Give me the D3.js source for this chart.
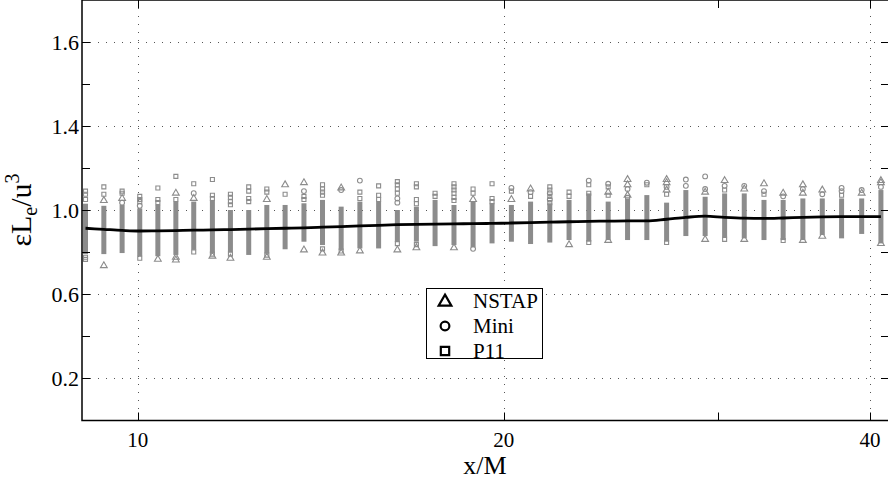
<!DOCTYPE html>
<html><head><meta charset="utf-8">
<script src="https://cdn.jsdelivr.net/npm/d3@7"></script>
<style>body{margin:0;background:#fff}svg{display:block}
text{font-family:"Liberation Serif","Times New Roman","DejaVu Serif",serif;}</style>
</head><body><svg id="c" width="888" height="479"></svg>
<script>
// ---- data ----
const xStations = [9.06,9.38,9.71,10.04,10.39,10.75,11.12,11.52,11.92,12.34,12.77,13.22,13.70,14.19,14.70,15.23,15.78,16.35,16.95,17.56,18.20,18.87,19.56,20.29,21.04,21.82,22.63,23.49,24.37,25.28,26.22,27.22,28.23,29.28,30.38,31.53,32.73,33.94,35.23,36.55,37.91,39.38,40.84];
const bandLow  = [0.79,0.79,0.795,0.78,0.78,0.786,0.81,0.794,0.80,0.786,0.794,0.813,0.849,0.833,0.81,0.817,0.817,0.849,0.849,0.828,0.833,0.822,0.841,0.849,0.838,0.845,0.857,0.849,0.857,0.857,0.857,0.849,0.876,0.876,0.87,0.865,0.857,0.857,0.857,0.881,0.865,0.886,0.841];
const bandHigh = [1.03,1.02,1.024,1.008,1.024,1.04,1.04,1.048,1.0,1.0,1.024,1.024,1.032,1.048,1.016,1.04,1.04,1.0,1.016,1.048,1.024,1.04,1.032,1.024,1.04,1.032,1.048,1.079,1.04,1.055,1.071,1.035,1.095,1.063,1.079,1.079,1.048,1.048,1.055,1.055,1.055,1.055,1.095];
const meanValues = [0.913,0.908,0.903,0.900,0.901,0.902,0.904,0.905,0.907,0.909,0.911,0.913,0.915,0.918,0.921,0.924,0.927,0.930,0.932,0.933,0.934,0.935,0.936,0.938,0.940,0.942,0.944,0.946,0.947,0.948,0.948,0.956,0.965,0.971,0.965,0.961,0.960,0.962,0.965,0.967,0.968,0.968,0.968];
// outliers: [column index, value]
const nstapOutliers = [[1,1.045],[1,0.735],[2,1.055],[4,0.765],[5,1.08],[5,0.775],[5,0.762],[6,1.055],[7,0.78],[8,0.77],[10,1.05],[10,0.775],[11,1.12],[12,1.13],[12,0.81],[13,0.795],[14,1.105],[14,0.795],[15,0.805],[17,0.81],[18,0.82],[20,0.82],[21,1.05],[23,1.05],[24,1.1],[26,0.835],[28,1.085],[28,0.855],[29,1.145],[29,1.12],[29,1.07],[31,1.145],[31,1.13],[31,1.095],[33,1.085],[33,0.86],[34,1.14],[35,1.1],[35,0.86],[36,1.125],[37,1.08],[38,1.12],[38,1.08],[38,0.855],[39,1.095],[39,0.875],[41,1.08],[42,1.14],[42,1.13],[42,0.84]];
const miniOutliers = [[2,1.035],[3,1.02],[6,1.08],[12,1.09],[14,1.095],[15,1.14],[17,1.055],[17,1.035],[21,0.815],[23,1.105],[24,1.085],[25,1.08],[25,1.05],[27,1.14],[28,1.125],[29,1.1],[30,1.13],[31,1.11],[32,1.145],[32,1.115],[33,1.16],[33,1.1],[34,1.115],[35,1.115],[36,1.09],[37,1.065],[38,1.1],[39,1.075],[40,1.105],[40,1.09],[41,1.095],[42,1.11]];
const p11Outliers = [[0,1.09],[0,1.075],[0,1.05],[0,0.775],[0,0.765],[1,1.11],[1,1.075],[2,1.09],[2,1.08],[3,1.065],[3,1.05],[3,1.04],[3,0.77],[4,1.105],[4,1.05],[4,1.035],[5,1.16],[5,1.05],[6,1.125],[6,0.80],[7,1.145],[7,1.07],[7,1.055],[7,0.79],[8,1.075],[8,1.06],[8,1.04],[8,1.025],[8,0.79],[9,1.11],[9,1.09],[9,1.055],[9,1.04],[10,1.1],[10,1.085],[10,0.785],[11,1.075],[12,1.065],[12,1.05],[13,1.12],[13,1.1],[13,1.085],[13,1.07],[13,0.815],[14,0.805],[15,1.085],[15,1.055],[16,1.115],[16,1.07],[16,1.05],[17,1.135],[17,1.12],[17,1.10],[17,1.08],[17,0.84],[18,1.125],[18,1.11],[18,1.05],[18,1.03],[18,0.835],[19,1.08],[19,1.065],[20,1.125],[20,1.11],[20,1.095],[20,1.08],[20,1.06],[20,1.045],[21,1.1],[21,1.08],[22,1.125],[22,1.055],[22,1.04],[23,1.09],[24,1.065],[25,1.11],[25,1.095],[25,1.065],[25,1.035],[26,1.085],[26,1.065],[27,1.12],[27,1.08],[27,0.845],[28,1.11],[28,1.07],[29,1.06],[30,1.12],[31,1.075],[31,0.845],[34,1.095],[34,0.86],[36,1.075],[37,0.855],[40,1.07]];
const xTicks = [10,20,30,40];
const xTickLabels = ["10","20","","40"];
const xGridTicks = [10,20,40];
const yTicks = [0.2,0.4,0.6,0.8,1.0,1.2,1.4,1.6,1.8];
const yGridTicks = [0.2,0.6,1.0,1.4,1.8];
const yTickLabels = ["0.2","0.6","1.0","1.4","1.6"];
const legendItems = ["NSTAP","Mini","P11"];

// ---- drawing ----
const svg = d3.select("#c");
const L = 82, R = 889, T = 0, B = 420.5;
const x = d3.scaleLog().domain([9, 41.47]).range([L, R]);
const y = d3.scaleLinear().domain([0, 2]).range([420, 0]);
const gray = "#8c8c8c";

svg.append("defs").append("clipPath").attr("id","pc")
  .append("rect").attr("x",L).attr("y",T).attr("width",R-L).attr("height",B-T);

// grid
const grid = svg.append("g").attr("stroke","#555").attr("stroke-width",1).attr("stroke-dasharray","1,7");
grid.selectAll(".gy").data(yGridTicks).join("line")
  .attr("x1",L).attr("x2",R).attr("y1",d=>Math.round(y(d))+0.5).attr("y2",d=>Math.round(y(d))+0.5);
grid.selectAll(".gx").data(xGridTicks).join("line")
  .attr("y1",T).attr("y2",B).attr("x1",d=>Math.round(x(d))+0.5).attr("x2",d=>Math.round(x(d))+0.5);

const plot = svg.append("g").attr("clip-path","url(#pc)");

// dense bands
plot.append("g").selectAll("rect").data(xStations).join("rect")
  .attr("x",d=>x(d)-2.5).attr("width",5)
  .attr("y",(d,i)=>y(bandHigh[i])).attr("height",(d,i)=>y(bandLow[i])-y(bandHigh[i]))
  .attr("fill",gray);

function drawOut(data, type, size){
  plot.append("g").selectAll("path").data(data).join("path")
    .attr("d", d3.symbol().type(type).size(size))
    .attr("transform", d=>`translate(${x(xStations[d[0]])},${y(d[1])})`)
    .attr("fill","none").attr("stroke",gray).attr("stroke-width",1.1);
}
drawOut(nstapOutliers, d3.symbolTriangle, 20);
drawOut(miniOutliers, d3.symbolCircle, 18);
drawOut(p11Outliers, d3.symbolSquare, 16);

// mean line
plot.append("path").datum(xStations)
  .attr("d", d3.line().x(d=>x(d)).y((d,i)=>y(meanValues[i])).curve(d3.curveMonotoneX))
  .attr("fill","none").attr("stroke","#000").attr("stroke-width",2.8);

// frame
svg.append("rect").attr("x",L).attr("y",T).attr("width",R-L).attr("height",B-T)
  .attr("fill","none").attr("stroke","#000").attr("stroke-width",1.5);

// ticks
const tk = svg.append("g").attr("stroke","#000").attr("stroke-width",1);
yTicks.forEach(v=>{
  const yy = Math.round(y(v))+0.5;
  tk.append("line").attr("x1",L).attr("x2",L+8).attr("y1",yy).attr("y2",yy);
  tk.append("line").attr("x1",R).attr("x2",R-8).attr("y1",yy).attr("y2",yy);
});
xTicks.forEach(v=>{
  const xx = Math.round(x(v))+0.5;
  tk.append("line").attr("x1",xx).attr("x2",xx).attr("y1",B).attr("y2",B-8);
  tk.append("line").attr("x1",xx).attr("x2",xx).attr("y1",T).attr("y2",T+8);
});

// tick labels
svg.append("g").selectAll("text").data(yGridTicks).join("text")
  .attr("x",79).attr("y",d=>y(d)+7.5).attr("text-anchor","end")
  .attr("font-size",22).text((d,i)=>yTickLabels[i]);
svg.append("g").selectAll("text").data(xTicks).join("text")
  .attr("x",d=>x(d)).attr("y",447).attr("text-anchor","middle")
  .attr("font-size",21).text((d,i)=>xTickLabels[i]);

// axis titles
svg.append("text").attr("x",485).attr("y",474).attr("text-anchor","middle")
  .attr("font-size",26).text("x/M");
const yl = svg.append("text").attr("transform","translate(31,210) rotate(-90)")
  .attr("text-anchor","middle").attr("font-size",30);
yl.append("tspan").text("εL");
yl.append("tspan").attr("font-size",20).attr("dy",6).text("e");
yl.append("tspan").attr("dy",-6).text("/u");
yl.append("tspan").attr("font-size",20).attr("dy",-12).text("3");

// legend
const lg = svg.append("g");
lg.append("rect").attr("x",426.5).attr("y",288.5).attr("width",116).attr("height",70)
  .attr("fill","#fff").attr("stroke","#000").attr("stroke-width",1);
const legTypes = [d3.symbolTriangle, d3.symbolCircle, d3.symbolSquare];
const legSizes = [70, 60, 70];
legendItems.forEach((name,i)=>{
  const cy = 301 + i*25;
  lg.append("path").attr("d", d3.symbol().type(legTypes[i]).size(legSizes[i]))
    .attr("transform",`translate(445,${cy + (i===0?1:0)})`)
    .attr("fill","none").attr("stroke","#000").attr("stroke-width",2.2);
  lg.append("text").attr("x",473).attr("y",cy+7)
    .attr("font-size",21).text(name);
});
</script></body></html>
